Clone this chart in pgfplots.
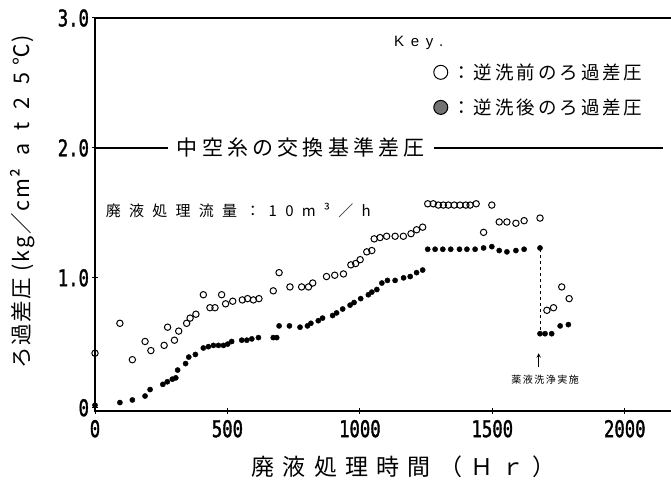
\documentclass[border=0pt]{standalone}
\usepackage{fontspec}
\usepackage{pgfplots}
\pgfplotsset{compat=1.18}
\setmainfont{Noto Sans CJK JP}
\newfontfamily\tickfont[FakeStretch=0.75, FakeBold=1.5]{DejaVu Sans Mono}
\newfontfamily\keyfont[LetterSpace=45]{Liberation Sans}
\newcommand\fs[1]{\fontsize{#1bp}{#1bp}\selectfont}
\begin{document}
\begin{tikzpicture}
\useasboundingbox (0,0) rectangle (671bp,483bp);
\begin{axis}[
  at={(95bp,72bp)}, anchor=south west,
  scale only axis, width=596bp, height=393bp,
  xmin=0, xmax=2250, ymin=-0.025, ymax=3,
  xtick={0,500,1000,1500,2000},
  xticklabels={0,500,1000,1500,2000},
  ytick={0,1,2,3},
  yticklabels={0,1.0,2.0,3.0},
  xtick pos=bottom, ytick pos=left,
  tick align=center, major tick length=5bp,
  every tick/.style={black, line width=1bp},
  axis line style={line width=1.2bp},
  xticklabel style={font=\tickfont\fs{23}, yshift=-3bp},
  yticklabel style={font=\tickfont\fs{23}},
  xlabel={廃液処理時間（Ｈｒ）},
  ylabel={ろ過差圧 (kg／cm² \ a \ t \ 2 \ 5 ℃)},
  xlabel style={font=\fs{23}\addfontfeature{LetterSpace=36}, at={(axis description cs:0.518,-0.1425)}, anchor=center},
  ylabel style={font=\fs{21.5}\addfontfeature{LetterSpace=8}, at={(axis description cs:-0.121,0.532)}, anchor=center, rotate=0},
  legend style={at={(axis cs:1265,2.68)}, anchor=north west, draw=none, fill=none,
    font=\fs{18.5}\addfontfeature{LetterSpace=16}, row sep=14bp,
    /tikz/every odd column/.append style={column sep=2bp}},
  legend cell align=left,
  clip=false,
]
\draw[line width=1.3bp] (axis cs:0,2) -- (axis cs:2145,2);
\node[fill=white, inner xsep=9bp, font=\fs{21}\addfontfeature{LetterSpace=20}] at (axis cs:777,2) {中空糸の交換基準差圧};
\node[anchor=west, font=\fs{15}\addfontfeature{LetterSpace=55}] at (axis cs:28,1.52) {廃液処理流量：10m³／h};
\node[font=\keyfont\fs{15}] at (axis cs:1222,2.81) {Key.};

\addplot[only marks, mark=o, mark size=3.2bp, mark options={line width=1bp, black},
  legend image code/.code={\draw[line width=1bp] (0,0) circle (7bp);}]
coordinates {
(0,0.42) (94,0.65) (141,0.37) (189,0.51) (211,0.44) (261,0.48) (274,0.62)
(300,0.52) (316,0.59) (346,0.65) (359,0.69) (381,0.72) (409,0.87) (434,0.77)
(453,0.77) (478,0.87) (493,0.80) (520,0.82) (556,0.83) (576,0.84) (598,0.83)
(619,0.84) (673,0.90) (695,1.04) (736,0.93) (780,0.93) (806,0.93) (822,0.96)
(874,1.01) (905,1.02) (938,1.03) (966,1.10) (984,1.11) (1001,1.14) (1026,1.20)
(1045,1.21) (1054,1.30) (1076,1.31) (1101,1.32) (1133,1.32) (1164,1.32)
(1193,1.34) (1214,1.37) (1237,1.39) (1256,1.57) (1277,1.57) (1296,1.56)
(1315,1.56) (1334,1.56) (1356,1.56) (1378,1.56) (1400,1.56) (1416,1.56)
(1439,1.57) (1467,1.35) (1498,1.56) (1526,1.43) (1555,1.43) (1589,1.42)
(1620,1.44) (1680,1.46) (1706,0.75) (1731,0.77) (1762,0.93) (1790,0.84)
};
\addlegendentry{：逆洗前のろ過差圧}
\addplot[only marks, mark=*, mark size=2.6bp, mark options={black, fill=black},
  legend image code/.code={\draw[line width=1bp, fill=black!55] (0,0) circle (7bp);}]
coordinates {
(0,0.02) (94,0.04) (141,0.06) (189,0.09) (208,0.14) (256,0.18) (273,0.20)
(292,0.22) (305,0.23) (312,0.29) (342,0.34) (354,0.39) (379,0.41) (409,0.46)
(428,0.47) (447,0.48) (466,0.48) (485,0.48) (501,0.49) (516,0.51) (554,0.52)
(573,0.52) (592,0.53) (617,0.54) (673,0.54) (686,0.54) (695,0.63) (734,0.63)
(774,0.62) (802,0.63) (815,0.65) (843,0.67) (859,0.69) (897,0.71) (912,0.73)
(935,0.76) (963,0.79) (978,0.81) (1003,0.84) (1032,0.87) (1045,0.89)
(1064,0.91) (1083,0.96) (1104,0.98) (1133,0.98) (1165,1.00) (1190,1.01)
(1214,1.04) (1237,1.06) (1256,1.22) (1284,1.22) (1313,1.22) (1343,1.22)
(1376,1.22) (1404,1.22) (1435,1.22) (1467,1.23) (1498,1.24) (1526,1.21)
(1555,1.20) (1589,1.21) (1620,1.22) (1680,1.23) (1680,0.57) (1699,0.57)
(1724,0.57) (1756,0.63) (1787,0.64)
};
\addlegendentry{：逆洗後のろ過差圧}
\addplot[black, dashed, line width=1bp, forget plot] coordinates {(1680,1.22) (1680,0.58)};
\draw[->, >=stealth, line width=1bp] (axis cs:1675,0.31) -- (axis cs:1675,0.42);
\node[font=\fs{10}\addfontfeature{LetterSpace=15}] at (axis cs:1699,0.215) {薬液洗浄実施};
\end{axis}
\end{tikzpicture}
\end{document}
